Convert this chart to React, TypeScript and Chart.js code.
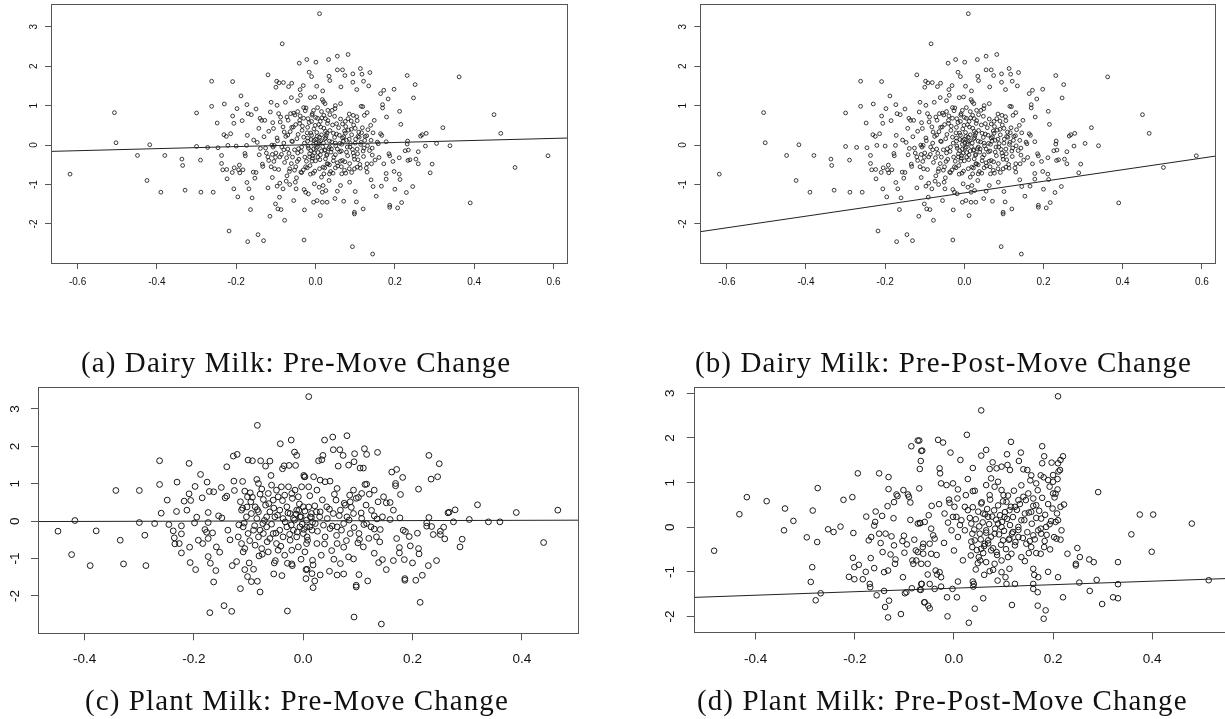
import React, { useEffect, useRef } from "react";
import { Chart, registerables } from "chart.js";

Chart.register(...registerables);

// ---------- data ----------
// Dairy milk: same scatter in (a) and (b)
const dairyPoints: [number, number][] = [
  [-0.619,-0.737],[-0.507,0.822],[-0.503,0.059],[-0.449,-0.263],[-0.418,0.008],[-0.425,-0.898],[-0.390,-1.195],[-0.380,-0.263],
  [-0.337,-0.356],[-0.335,-0.517],[-0.329,-1.144],[-0.300,0.814],[-0.300,-0.034],[-0.290,-0.381],[-0.289,-1.195],[-0.272,-0.059],
  [-0.262,1.619],[-0.262,0.983],[-0.258,-1.195],[-0.248,0.559],[-0.246,-0.068],[-0.237,-0.263],[-0.237,-0.466],[-0.234,-0.627],
  [-0.230,1.042],[-0.231,0.263],[-0.225,0.220],[-0.224,-0.619],[-0.223,-0.856],[-0.221,-0.008],[-0.218,-2.178],[-0.214,0.288],
  [-0.209,1.610],[-0.209,0.737],[-0.206,0.551],[-0.210,-0.695],[-0.206,-1.110],[-0.205,-0.576],[-0.200,-0.025],[-0.198,0.924],
  [-0.196,-1.314],[-0.194,-0.627],[-0.192,-0.508],[-0.191,-0.703],[-0.188,1.246],[-0.185,0.619],[-0.183,-0.627],[-0.178,-0.212],
  [-0.177,-0.271],[-0.174,-0.008],[-0.173,-0.949],[-0.172,0.246],[-0.171,-2.449],[-0.173,1.025],[-0.170,0.797],[-0.168,-1.110],
  [-0.164,-1.636],[-0.162,0.771],[-0.160,-1.339],[-0.157,-0.686],[-0.156,0.127],[-0.153,-0.839],[-0.150,0.915],[-0.150,-0.695],
  [-0.147,0.068],[-0.145,-2.271],[-0.143,0.424],[-0.142,-0.246],[-0.140,0.678],[-0.139,-0.085],[-0.136,0.627],[-0.134,-0.483],
  [-0.133,-0.542],[-0.131,-2.424],[-0.130,0.212],[-0.128,0.627],[-0.126,-0.076],[-0.124,-0.203],[-0.120,1.780],[-0.120,-1.085],
  [-0.118,-0.390],[-0.115,-1.805],[-0.114,0.839],[-0.112,1.085],[-0.109,-0.237],[-0.109,-0.822],[-0.108,0.568],[-0.107,-0.051],
  [-0.105,-0.415],[-0.104,-0.008],[-0.103,-0.602],[-0.101,-1.492],[-0.100,1.466],[-0.098,1.619],[-0.097,1.008],[-0.096,0.110],
  [-0.097,-1.042],[-0.095,-1.619],[-0.093,0.797],[-0.092,1.576],[-0.091,-1.322],[-0.090,-0.966],[-0.089,0.585],[-0.087,-1.636],
  [-0.086,-0.237],[-0.084,2.568],[-0.082,-1.110],[-0.081,1.585],[-0.080,-0.119],[-0.079,0.331],[-0.078,-1.907],[-0.076,1.085],
  [-0.074,-0.915],[-0.073,-0.322],[-0.072,0.712],[-0.070,0.254],[-0.068,1.483],[-0.066,-0.669],[-0.065,-1.000],[-0.063,0.797],
  [-0.061,1.203],[-0.060,1.568],[-0.058,-0.305],[-0.056,0.458],[-0.055,-1.407],[-0.053,-0.636],[-0.052,0.763],[-0.051,-0.941],
  [-0.049,-1.110],[-0.047,0.161],[-0.046,-0.415],[-0.045,1.127],[-0.043,-0.093],[-0.041,2.076],[-0.040,0.627],[-0.039,1.407],
  [-0.038,1.263],[-0.037,-0.686],[-0.035,-0.051],[-0.034,0.373],[-0.031,1.508],[-0.029,-2.407],[-0.029,-1.127],[-0.028,-1.644],
  [-0.027,-0.305],[-0.025,-1.195],[-0.024,0.941],[-0.022,2.169],[-0.021,-0.576],[-0.019,0.669],[-0.019,-0.025],[-0.018,-1.237],
  [-0.016,1.847],[-0.015,-0.220],[-0.013,1.203],[-0.013,-0.737],[-0.012,0.305],[-0.010,1.737],[-0.009,-0.407],[-0.008,0.797],
  [-0.006,-0.712],[-0.005,-1.449],[-0.004,0.119],[-0.003,-0.983],[-0.003,-0.203],[-0.002,1.220],[-0.001,0.500],[0.001,2.102],
  [0.003,1.492],[0.004,-1.407],[0.006,-0.305],[0.008,0.034],[0.009,-1.068],[0.010,3.331],[0.012,-1.788],[0.013,0.458],
  [0.015,-0.814],[0.017,-1.449],[0.018,1.373],[0.019,-0.559],[0.021,0.754],[0.023,-0.136],[0.024,1.051],[0.026,-1.153],
  [0.027,0.246],[0.029,-1.449],[0.029,-0.475],[0.031,0.881],[0.033,2.169],[0.034,1.746],[0.035,-0.729],[0.035,-0.051],
  [0.055,2.254],[0.082,2.297],[0.055,1.907],[0.068,1.907],[0.074,1.763],[0.036,1.636],[0.094,1.805],[0.113,1.941],
  [0.117,1.797],[0.137,1.839],[0.094,1.593],[0.121,1.619],[0.064,1.475],[0.134,1.500],[0.104,1.407],[0.164,1.305],
  [0.172,1.390],[0.198,1.415],[0.231,1.763],[0.251,1.534],[0.247,1.195],[0.183,1.169],[0.169,1.025],[0.169,0.941],
  [0.212,0.856],[0.179,0.712],[0.215,0.525],[0.362,1.729],[0.450,0.771],[0.467,0.297],[0.321,0.441],[0.279,0.297],
  [0.269,0.263],[0.265,0.229],[0.232,0.102],[0.231,0.025],[0.277,-0.025],[0.305,0.042],[0.339,-0.017],[0.259,-0.169],
  [0.226,-0.144],[0.234,-0.127],[0.211,-0.322],[0.233,-0.390],[0.238,-0.373],[0.253,-0.356],[0.259,-0.475],[0.294,-0.483],
  [0.289,-0.703],[0.195,-0.415],[0.172,-0.475],[0.185,-0.220],[0.187,-0.271],[0.160,-0.314],[0.178,0.085],[0.164,0.288],
  [0.167,0.246],[0.156,0.076],[0.158,0.034],[0.143,-0.076],[0.143,-0.254],[0.178,-0.720],[0.178,-0.864],[0.211,-0.737],
  [0.213,-0.873],[0.198,-0.669],[0.200,-1.119],[0.166,-1.042],[0.245,-1.051],[0.229,-1.203],[0.217,-1.458],[0.207,-1.593],
  [0.187,-1.525],[0.187,-1.576],[0.120,-1.619],[0.098,-1.703],[0.098,-1.746],[0.103,-1.441],[0.153,-1.297],[0.145,-1.051],
  [0.140,-0.881],[0.130,-0.686],[0.141,-0.475],[0.130,-0.475],[0.113,-0.585],[0.100,-1.178],[0.071,-1.424],[0.049,-1.356],
  [0.390,-1.466],[0.503,-0.568],[0.586,-0.271],[0.093,-2.576],[0.144,-2.763],[0.086,-0.941],[0.076,-0.712],[0.074,-0.424],
  [0.078,-0.178],[0.097,-0.280],[0.087,-0.051],[0.063,-1.025],[0.055,-1.169],[0.066,-0.729],[0.044,-0.712],[0.034,-0.898],
  [0.019,-1.025],[0.017,-1.195],[0.091,-0.695],[0.098,-0.602],[0.105,-0.559],[0.107,-0.373],[0.122,-0.076],[0.131,-0.017],
  [0.114,0.017],[0.124,0.119],[0.116,0.314],[0.129,0.237],[0.107,0.220],[0.100,0.424],[0.090,0.610],[0.095,0.754],
  [0.085,0.788],[0.082,0.669],[0.115,0.983],[0.119,0.975],[0.130,0.822],[0.123,0.754],[0.139,0.500],[0.148,0.627],
  [0.105,0.619],[0.068,0.534],[0.073,0.356],[0.053,0.542],[0.063,1.051],[0.042,0.881],[0.049,0.924],[0.036,0.771],
  [0.025,0.669],[0.017,1.153],[0.048,0.195],[0.061,0.042],[0.068,0.178],[0.029,0.305],[0.024,0.161],[0.029,-0.237],
  [0.039,-0.178],[0.050,-0.246],[0.063,-0.407],[0.050,-0.576],[0.031,-0.475],[0.021,-0.729],
  [-0.040,0.550],[-0.030,0.680],[-0.020,0.450],[-0.010,0.600],[0.000,0.700],[0.005,0.680],[0.012,0.600],[-0.030,0.200],
  [-0.020,0.100],[-0.010,0.250],[0.000,0.150],[0.010,0.200],[0.020,0.050],[-0.005,-0.100],[0.005,-0.050],[0.015,-0.150],
  [-0.015,-0.300],[0.000,-0.400],[0.010,-0.600],[-0.025,-0.550],[-0.035,-0.700],[-0.045,-0.200],[-0.060,0.100],[-0.070,-0.100],
  [-0.080,0.050],[-0.090,-0.300],[-0.100,-0.200],[-0.110,0.000],[-0.120,-0.300],[-0.060,0.450],[-0.050,-0.550],[-0.065,-0.600],
  [0.025,0.350],[0.030,0.550],[0.035,0.100],[0.040,-0.100],[0.045,0.300],[0.050,0.050],[0.055,-0.100],[0.060,0.250],
  [0.065,-0.150],[0.070,0.100],[0.075,0.300],[0.080,-0.050],[0.085,0.150],[0.090,0.400],[0.095,-0.200],[0.100,0.050],
  [0.105,-0.100],[0.110,0.200],[0.120,-0.150],[0.025,-0.350],[0.035,-0.500],[0.045,-0.400],[0.055,-0.450],[0.065,-0.550],
  [0.075,0.600],[0.085,-0.600],[0.015,0.850],[0.005,0.950],[-0.005,0.880],[0.020,1.100],[0.050,1.000],[-0.030,0.950],
  [-0.045,0.850],
  [-0.118,0.35],[-0.112,-0.55],[-0.106,0.42],[-0.101,-0.31],[-0.097,0.18],[-0.093,-0.62],[-0.088,0.71],[-0.085,-0.05],
  [-0.082,0.46],[-0.078,-0.44],[-0.075,0.22],[-0.072,-0.78],[-0.069,0.63],[-0.067,-0.21],[-0.064,0.34],[-0.061,-0.47],
  [-0.058,0.09],[-0.055,0.81],[-0.053,-0.12],[-0.050,0.52],[-0.048,-0.83],[-0.044,0.27],[-0.042,-0.36],[-0.039,0.74],
  [-0.036,-0.16],[-0.033,0.48],[-0.031,-0.63],[-0.028,0.05],[-0.026,0.87],[-0.023,-0.41],[-0.021,0.31],[-0.018,-0.08],
  [-0.016,0.57],[-0.014,-0.52],[-0.011,0.14],[-0.009,0.76],[-0.007,-0.27],[-0.004,0.41],[-0.002,-0.66],[0.001,0.05],
  [0.003,0.32],[0.006,-0.19],[0.008,0.52],[0.011,-0.37],[0.013,0.11],[0.016,0.69],[0.018,-0.04],[0.021,0.43],
  [0.023,-0.58],[0.026,0.19],[0.028,-0.26],[0.031,0.62],[0.033,-0.09],[0.036,0.37],[0.038,-0.67],[0.041,0.08],
  [0.043,0.51],[0.046,-0.31],[0.048,0.73],[0.051,-0.02],[0.053,0.28],[0.056,-0.53],[0.058,0.44],[0.061,-0.17],
  [0.063,0.66],[0.066,0.02],[0.068,-0.39],[0.071,0.21],[0.073,-0.64],[0.076,0.47],[0.078,0.12],[0.081,-0.27],
  [0.083,0.38],[0.086,-0.47],[0.088,0.04],[0.091,0.26],[0.093,-0.11],[0.096,0.51],[0.098,-0.36],[0.101,0.15],
  [0.104,0.72],[0.106,-0.22],[0.109,0.33],[0.112,-0.49],[0.115,0.07],[0.118,0.44],[0.121,-0.29],[0.125,0.22],
  [0.128,-0.58],[0.132,0.39],[0.136,-0.14],[0.140,0.12],[0.145,0.31],[0.150,-0.38],
  [-0.005,0.02],[0.002,-0.08],[0.009,0.09],[-0.012,-0.14],[0.015,0.26],[-0.020,0.18],[0.024,-0.12],[0.004,0.22],
  [-0.008,-0.33],[0.012,-0.25]
];

const plantPrePoints: [number, number][] = [
  [-0.449,-0.268],[-0.418,0.018],[-0.424,-0.893],[-0.390,-1.188],[-0.379,-0.259],[-0.343,0.821],[-0.335,-0.509],[-0.329,-1.143],
  [-0.300,0.821],[-0.300,-0.036],[-0.290,-0.375],[-0.288,-1.188],[-0.272,-0.063],[-0.263,1.616],[-0.263,0.982],[-0.260,0.214],
  [-0.249,0.563],[-0.246,-0.089],[-0.238,-0.259],[-0.236,-0.446],[-0.232,0.259],[-0.231,1.045],[-0.235,-0.607],[-0.227,-0.598],
  [-0.223,-0.848],[-0.223,-0.339],[-0.223,-0.125],[-0.218,0.536],[-0.213,0.295],[-0.209,1.545],[-0.209,0.732],[-0.207,-1.107],
  [-0.208,-0.696],[-0.206,0.554],[-0.199,-0.045],[-0.198,0.929],[-0.197,-1.295],[-0.195,0.107],[-0.192,-0.509],[-0.188,1.250],
  [-0.185,0.625],[-0.184,-0.598],[-0.180,-0.223],[-0.177,-0.295],[-0.176,1.045],[-0.174,0.232],[-0.174,-0.036],[-0.174,-0.464],
  [-0.174,-0.946],[-0.172,0.795],[-0.170,-1.125],[-0.171,-2.446],[-0.164,-1.625],[-0.166,-0.313],[-0.164,0.786],[-0.160,-1.321],
  [-0.159,-0.688],[-0.155,0.143],[-0.153,-0.830],[-0.150,0.902],[-0.149,0.089],[-0.145,-2.259],[-0.143,0.625],[-0.140,1.455],
  [-0.140,0.670],[-0.138,-0.241],[-0.134,-0.500],[-0.131,-2.411],[-0.130,-1.188],[-0.127,1.071],[-0.128,1.741],[-0.126,0.821],
  [-0.122,-1.080],[-0.121,1.786],[-0.118,-0.098],[-0.115,-1.804],[-0.111,1.063],[-0.111,0.348],[-0.110,-0.821],[-0.107,-1.295],
  [-0.102,-1.482],[-0.101,1.634],[-0.099,-1.116],[-0.097,0.759],[-0.095,-1.616],[-0.093,1.616],[-0.091,-1.286],[-0.088,0.384],
  [-0.085,1.116],[-0.084,-1.607],[-0.084,2.563],[-0.081,-0.929],[-0.079,-1.893],[-0.078,1.616],[-0.075,-0.884],[-0.074,-0.063],
  [-0.069,1.473],[-0.061,1.607],[-0.059,1.223],[-0.054,-1.411],[-0.053,-1.116],[-0.051,-1.054],[-0.042,2.071],[-0.039,-1.455],
  [-0.038,1.402],[-0.035,1.482],[-0.029,-2.402],[-0.029,-1.125],[-0.026,1.491],[-0.022,2.170],[-0.021,-1.143],[-0.020,-1.188],
  [-0.016,1.848],[-0.014,1.491],[-0.012,1.759],[-0.004,-1.018],[0.001,1.223],[0.005,-1.295],[0.010,3.330],[0.016,-1.402],
  [0.018,-1.777],
  [-0.107,0.804],[-0.102,0.652],[-0.096,0.518],[-0.082,1.009],[-0.079,0.723],[-0.073,0.580],[-0.069,0.429],[-0.064,0.741],
  [-0.058,0.964],[-0.055,0.563],[-0.049,0.830],[-0.046,0.652],[-0.040,0.920],[-0.034,0.696],[-0.027,0.920],[-0.021,0.741],
  [-0.015,0.830],[-0.009,0.652],[-0.003,0.920],[0.003,1.188],[-0.113,0.295],[-0.104,0.116],[-0.095,0.205],[-0.085,0.071],
  [-0.082,0.250],[-0.067,0.116],[-0.061,0.250],[-0.052,0.116],[-0.043,0.295],[-0.037,0.071],[-0.030,0.384],[-0.024,0.205],
  [-0.018,0.071],[-0.012,0.295],[-0.006,0.116],[0.000,0.384],[0.006,0.027],[0.015,0.205],[-0.110,-0.152],[-0.101,-0.330],
  [-0.091,-0.241],[-0.082,-0.420],[-0.073,-0.330],[-0.067,-0.152],[-0.061,-0.464],[-0.055,-0.330],[-0.049,-0.598],[-0.043,-0.241],
  [-0.037,-0.420],[-0.030,-0.152],[-0.024,-0.509],[-0.018,-0.241],[-0.012,-0.420],[-0.006,-0.152],[0.000,-0.330],[0.006,-0.598],
  [0.012,-0.152],[-0.119,-0.420],[-0.113,-0.598],[-0.107,-0.732],[-0.088,-0.643],[-0.076,-0.732],[-0.064,-0.821],[-0.046,-0.777],
  [-0.034,-0.911],[-0.021,-0.777],[-0.009,-0.688],[0.003,-0.821],
  [0.039,2.170],[0.054,2.250],[0.080,2.286],[0.055,1.911],[0.067,1.911],[0.073,1.759],[0.036,1.759],[0.034,1.643],
  [0.094,1.804],[0.112,1.938],[0.116,1.786],[0.136,1.839],[0.093,1.589],[0.083,1.500],[0.104,1.420],[0.110,1.420],
  [0.064,1.473],[0.028,1.616],[0.230,1.759],[0.249,1.536],[0.246,1.188],[0.234,1.125],[0.162,1.313],[0.171,1.384],
  [0.182,1.170],[0.169,1.009],[0.169,0.946],[0.211,0.857],[0.178,0.714],[0.319,0.438],[0.390,0.232],[0.466,0.295],
  [0.278,0.304],[0.267,0.241],[0.265,0.223],[0.304,0.045],[0.339,-0.018],[0.360,-0.018],[0.275,-0.018],[0.230,0.098],
  [0.226,-0.045],[0.226,-0.134],[0.235,-0.143],[0.257,-0.161],[0.251,-0.268],[0.238,-0.357],[0.251,-0.357],[0.259,-0.473],
  [0.291,-0.482],[0.287,-0.688],[0.440,-0.571],[0.209,-0.321],[0.183,-0.241],[0.187,-0.277],[0.194,-0.411],[0.171,-0.464],
  [0.176,-0.705],[0.176,-0.848],[0.196,-0.661],[0.211,-0.732],[0.212,-0.875],[0.229,-1.188],[0.244,-1.054],[0.200,-1.116],
  [0.185,-1.027],[0.165,-1.054],[0.152,-1.295],[0.218,-1.446],[0.206,-1.580],[0.186,-1.536],[0.186,-1.580],[0.214,-2.170],
  [0.118,-1.598],[0.097,-1.714],[0.097,-1.759],[0.102,-1.429],[0.093,-2.563],[0.143,-2.750],[0.138,-1.107],[0.145,-1.027],
  [0.130,-0.857],[0.092,-1.009],[0.074,-1.411],[0.062,-1.438],[0.048,-1.339],[0.031,-1.438],[0.021,-1.598],[0.018,-1.170],
  [0.007,-1.286],[0.017,-1.045],[0.005,-1.536],[0.056,-1.018],[0.068,-1.134],[0.083,-0.955],[0.074,-0.696],[0.062,-0.598],
  [0.052,-0.786],[0.033,-0.911],[0.025,-0.598],[0.100,-0.580],[0.103,-0.491],[0.110,-0.688],[0.140,-0.554],[0.134,-0.420],
  [0.141,-0.223],[0.124,-0.152],[0.116,-0.063],[0.107,0.071],[0.130,0.143],[0.145,0.116],[0.159,0.045],[0.165,0.295],
  [0.177,0.089],[0.152,0.491],[0.147,0.652],[0.137,0.518],[0.159,0.500],[0.130,0.830],[0.116,0.991],[0.113,0.982],
  [0.121,0.723],[0.107,0.741],[0.101,0.634],[0.092,0.830],[0.085,0.696],[0.086,0.518],[0.077,0.429],[0.060,0.563],
  [0.049,1.071],[0.040,1.054],[0.031,1.098],[0.019,1.188],[0.002,1.188],[0.010,0.920],[0.025,0.830],[0.062,0.875],
  [0.043,0.384],[0.031,0.250],[0.055,0.205],[0.068,0.295],[0.080,0.116],[0.092,0.205],[0.013,0.116],[0.022,-0.063],
  [0.037,-0.107],[0.049,-0.196],[0.062,-0.152],[0.074,-0.063],[0.086,-0.330],[0.040,-0.420],[0.007,-0.420],[0.016,-0.241],
  [-0.115,0.52],[-0.108,-0.05],[-0.103,0.38],[-0.098,-0.52],[-0.093,0.64],[-0.089,-0.12],[-0.084,0.31],[-0.079,-0.24],
  [-0.076,0.86],[-0.071,0.02],[-0.066,-0.55],[-0.063,0.47],[-0.058,-0.08],[-0.054,0.35],[-0.050,-0.32],[-0.047,0.16],
  [-0.041,-0.67],[-0.038,0.55],[-0.033,-0.02],[-0.028,0.22],[-0.025,-0.35],[-0.020,0.61],[-0.016,0.03],[-0.011,-0.29],
  [-0.007,0.46],[-0.002,-0.08],[0.003,0.27],[0.008,-0.51],[0.012,0.68],[0.017,-0.03],[0.021,0.41],[0.026,-0.27],
  [0.030,0.12],[0.035,0.57],[0.039,-0.61],[0.044,0.07],[0.048,0.32],[0.053,-0.13],[0.057,0.72],[0.061,-0.38],
  [0.066,0.15],[0.070,-0.24],[0.075,0.48],[0.079,-0.52],[0.084,0.03],[0.088,0.37],[0.093,-0.17],[0.097,0.61],
  [0.102,-0.33],[0.106,0.22],[0.111,-0.09],[0.115,0.43],[0.120,-0.46],[0.125,0.29],[0.130,-0.21],[0.135,0.06],
  [-0.004,0.12],[0.006,-0.16],[-0.013,0.19],[0.015,0.10],[0.001,-0.22],[-0.022,-0.10],[0.024,0.25],[0.010,0.38],
  [-0.008,0.29]
];

const plantPostPoints: [number, number][] = [
  [-0.484,-0.525],[-0.433,0.293],[-0.418,0.675],[-0.378,0.585],[-0.341,0.420],[-0.343,-0.068],[-0.324,0.143],[-0.297,-0.225],
  [-0.285,0.375],[-0.286,-0.893],[-0.289,-1.223],[-0.276,-0.330],[-0.275,0.878],[-0.279,-1.635],[-0.269,-1.478],[-0.254,-0.045],
  [-0.243,-0.105],[-0.229,0.015],[-0.223,0.615],[-0.205,0.675],[-0.203,-0.128],[-0.204,-0.683],[-0.201,-0.893],[-0.194,1.208],
  [-0.192,-0.840],[-0.212,-1.110],[-0.201,-1.163],[-0.184,-1.163],[-0.178,-0.998],[-0.177,0.240],[-0.172,-0.293],[-0.168,-0.690],
  [-0.170,-1.268],[-0.169,-1.343],[-0.159,0.120],[-0.158,0.353],[-0.161,0.038],[-0.161,-0.915],[-0.156,-1.523],[-0.167,-0.218],
  [-0.151,1.208],[-0.151,-0.143],[-0.148,-0.353],[-0.145,0.255],[-0.144,-0.555],[-0.141,-1.425],[-0.141,-1.005],[-0.138,-0.143],
  [-0.139,-1.785],[-0.134,0.473],[-0.133,-0.968],[-0.132,1.125],[-0.132,0.855],[-0.133,-2.018],[-0.131,-1.643],[-0.128,-0.608],
  [-0.126,-0.203],[-0.122,0.203],[-0.121,0.563],[-0.121,-0.405],[-0.119,-0.818],[-0.118,-0.720],[-0.116,0.735],[-0.114,0.698],
  [-0.107,-1.943],[-0.104,-0.308],[-0.103,-1.118],[-0.102,0.833],[-0.101,-0.188],[-0.100,-0.570],[-0.099,-1.478],[-0.096,-1.455],
  [-0.095,-0.383],[-0.093,0.735],[-0.091,0.683],[-0.088,0.555],[-0.088,0.165],[-0.086,1.815],[-0.085,-1.365],[-0.084,-0.743],
  [-0.082,-0.818],[-0.080,-0.278],[-0.077,-0.518],[-0.070,1.943],[-0.068,0.090],[-0.070,0.870],[-0.069,1.305],[-0.067,1.485],
  [-0.064,1.718],[-0.067,-1.403],[-0.065,-1.268],[-0.062,-0.593],[-0.060,-1.680],[-0.062,-0.368],
  [0.210,2.933],[0.055,2.618],[0.026,2.071],[-0.073,1.943],[-0.032,1.958],[-0.022,1.898],[-0.066,1.710],[-0.007,1.673],
  [0.013,1.508],[0.065,1.733],[0.055,1.605],[0.038,1.328],[0.078,1.455],[0.072,1.305],[0.086,1.320],[0.096,1.358],
  [0.107,1.635],[0.115,1.913],[0.135,1.673],[0.131,1.485],[0.108,1.395],[0.113,1.283],[0.140,1.298],[0.148,1.283],
  [0.156,1.163],[0.178,1.815],[0.182,1.590],[0.178,1.433],[0.197,1.448],[0.215,1.508],[0.220,1.590],[0.210,1.433],
  [0.214,1.283],[0.200,1.170],[0.209,1.080],[0.200,1.020],[0.190,1.058],[0.175,1.163],[0.166,0.983],[0.209,0.848],
  [0.200,0.758],[0.203,0.668],[0.215,0.458],[0.222,0.510],[0.291,0.788],[0.375,0.285],[0.402,0.285],[0.480,0.083],
  [0.358,-0.158],[0.399,-0.548],[0.331,-0.780],[0.514,-1.185],[0.249,-0.465],[0.254,-0.668],[0.246,-0.818],[0.246,-0.855],
  [0.273,-0.720],[0.282,-0.780],[0.229,-0.593],[0.288,-1.178],[0.253,-1.238],[0.331,-1.275],[0.274,-1.425],[0.299,-1.718],
  [0.321,-1.568],[0.331,-1.590],[0.220,-1.568],[0.210,-1.118],[0.190,-0.998],[0.194,-0.495],[0.183,-0.308],[0.175,-0.593],
  [0.182,-0.443],[0.215,-0.278],[0.217,-0.068],[0.207,-0.255],[0.205,0.120],[0.210,0.158],[0.193,0.068],[0.176,0.195],
  [0.186,0.008],[0.170,-0.068],[0.176,-0.143],[0.160,-0.180],[0.153,-0.308],[0.146,-0.368],[0.156,-0.443],[0.166,-0.578],
  [0.151,-0.578],[0.143,-0.758],[0.160,-0.930],[0.162,-1.065],[0.160,-1.268],[0.160,-1.380],[0.170,-1.118],[0.169,-1.455],
  [0.169,-1.755],[0.185,-1.860],[0.181,-2.048],[0.117,-1.740],[0.123,-1.268],[0.112,-0.930],[0.104,-1.118],[0.106,-1.268],
  [0.096,-1.005],[0.088,-1.193],[0.079,-0.953],[0.072,-0.983],[0.061,-1.065],[0.059,-1.590],[0.042,-1.823],[0.030,-2.138],
  [0.040,-1.268],[0.039,-1.328],[0.038,-1.215],[0.044,-0.945],[0.048,-0.803],[0.053,-0.743],[0.065,-0.780],[0.059,-0.578],
  [0.050,-0.668],[0.034,-0.630],[0.037,-0.443],[0.008,-1.215],[-0.003,-1.380],[0.006,-1.568],[-0.014,-1.568],[-0.013,-1.995],
  [-0.026,-1.328],[-0.039,-1.380],[-0.049,-1.268],[-0.069,-1.395],[-0.066,-1.268],[-0.059,-1.680],[-0.052,-1.755],[-0.049,-1.815],
  [-0.037,-0.968],[-0.029,-1.005],[-0.034,-1.058],[-0.026,-1.118],[-0.053,-1.058],[-0.053,-0.818],[-0.046,-0.593],[-0.066,-0.818],
  [-0.076,-0.743],[-0.073,-0.555],[-0.063,-0.443],[-0.049,-0.368],[-0.042,-0.180],[-0.046,-0.030],[-0.059,0.120],[-0.069,0.098],
  [-0.051,0.270],[-0.030,0.518],[-0.029,1.320],[-0.028,1.208],[-0.026,0.983],[-0.015,0.945],[-0.002,0.983],[-0.009,0.548],
  [-0.012,0.105],[-0.002,0.233],[-0.005,-0.068],[0.005,0.233],[0.008,0.848],[0.007,0.645],[0.028,1.080],[0.038,0.810],
  [0.042,0.818],[0.022,0.458],[0.028,0.383],[0.035,0.083],[0.037,-0.143],[0.042,-0.293],[0.055,-0.480],[0.062,-0.368],
  [0.069,-0.293],[0.075,-0.518],[0.086,-0.555],[0.052,-0.143],[0.065,-0.068],[0.069,0.233],[0.059,0.308],[0.055,0.533],
  [0.072,0.720],[0.082,0.908],[0.065,0.945],[0.075,1.095],[0.089,1.020],[0.096,0.833],[0.100,0.720],[0.106,0.570],
  [0.112,0.383],[0.102,0.233],[0.096,0.008],[0.089,0.083],[0.082,-0.143],[0.099,-0.293],[0.112,-0.255],[0.123,-0.405],
  [0.130,-0.218],[0.119,-0.105],[0.130,0.008],[0.136,0.158],[0.143,0.308],[0.123,0.458],[0.130,0.608],[0.140,0.683],
  [0.150,0.758],[0.160,0.645],[0.166,0.495],[0.156,0.345],[0.116,-0.593],[0.109,-0.668],[0.136,-0.668],[0.096,-0.743],
  [0.082,-0.818],[-0.073,0.083],[-0.039,-0.255],[-0.019,0.308],[0.001,0.458],[0.015,0.158],[0.022,-0.068],[0.008,-0.218],
  [0.032,0.21],[0.035,-0.32],[0.038,0.45],[0.041,-0.05],[0.044,0.18],[0.046,-0.51],[0.049,0.35],[0.051,0.02],
  [0.054,-0.27],[0.056,0.56],[0.058,0.11],[0.061,-0.42],[0.063,0.29],[0.065,-0.12],[0.067,0.41],[0.069,-0.36],
  [0.071,0.07],[0.073,0.62],[0.075,-0.21],[0.077,0.24],[0.079,-0.47],[0.081,0.38],[0.083,-0.03],[0.085,0.17],
  [0.087,-0.62],[0.089,0.49],[0.091,-0.16],[0.093,0.27],[0.095,-0.39],[0.097,0.12],[0.099,0.58],[0.101,-0.08],
  [0.103,0.34],[0.105,-0.49],[0.107,0.19],[0.109,0.71],[0.111,-0.28],[0.113,0.05],[0.115,0.46],[0.117,-0.14],
  [0.119,0.23],[0.121,0.82],[0.124,-0.33],[0.127,0.39],[0.130,-0.06],[0.133,0.52],[0.136,0.94],[0.139,-0.24],
  [0.142,0.16],[0.145,0.61],[0.148,-0.11],[0.151,0.33],[0.154,1.05],[0.157,0.08],[0.160,0.48],[0.163,-0.27],
  [0.166,0.21],[0.169,0.83],[0.172,0.37],[0.175,-0.03],[0.178,0.66],[0.181,1.12],[0.184,0.28],[0.187,-0.17],
  [0.190,0.52],[0.193,0.91],[0.196,0.14],[0.199,0.42],[0.202,-0.22],[0.205,0.75],[0.208,0.31],[0.211,1.25],
  [-0.020,-0.35],[-0.010,0.62],[0.000,-0.52],[0.012,0.05],[0.018,-0.74],[0.024,0.72],[-0.035,-0.62],[-0.045,0.48]
];

// regression lines (end points at the axis limits)
const dairyPreLine: [number, number][] = [[-0.667, -0.16], [0.634, 0.178]];
const dairyPostLine: [number, number][] = [[-0.667, -2.196], [0.634, -0.28]];
const plantPreLine: [number, number][] = [[-0.485, -0.01], [0.5035, 0.027]];
const plantPostLine: [number, number][] = [[-0.524, -1.57], [0.555, -1.146]];

// axis ranges and ticks
const dairyXRange: [number, number] = [-0.667, 0.634];
const dairyYRange: [number, number] = [-2.99, 3.577];
const plantPreXRange: [number, number] = [-0.485, 0.5035];
const plantPreYRange: [number, number] = [-2.99, 3.58];
const plantPostXRange: [number, number] = [-0.524, 0.555];
const plantPostYRange: [number, number] = [-2.345, 3.135];

const dairyXTicks = [-0.6, -0.4, -0.2, 0, 0.2, 0.4, 0.6];
const plantXTicks = [-0.4, -0.2, 0, 0.2, 0.4];
const yTicks = [-2, -1, 0, 1, 2, 3];

const captionTexts = [
  "(a) Dairy Milk: Pre-Move Change",
  "(b) Dairy Milk: Pre-Post-Move Change",
  "(c) Plant Milk: Pre-Move Change",
  "(d) Plant Milk: Pre-Post-Move Change",
];

// ---------- layout / style ----------
type PanelCfg = {
  points: [number, number][];
  line: [number, number][];
  xRange: [number, number];
  yRange: [number, number];
  xTicks: number[];
  left: number; top: number; width: number; height: number;
  padTop: number; padRight: number; yWidth: number; xHeight: number;
  tickLen: number; fontSize: number; xLabelPad: number; yLabelPad: number;
  radius: number; ptWidth: number;
};

const panels: PanelCfg[] = [
  { points: dairyPoints, line: dairyPreLine, xRange: dairyXRange, yRange: dairyYRange, xTicks: dairyXTicks,
    left: 0, top: 0, width: 612, height: 330, padTop: 4, padRight: 45, yWidth: 51, xHeight: 67,
    tickLen: 6, fontSize: 10, xLabelPad: 7.5, yLabelPad: 6.5, radius: 1.9, ptWidth: 0.85 },
  { points: dairyPoints, line: dairyPostLine, xRange: dairyXRange, yRange: dairyYRange, xTicks: dairyXTicks,
    left: 640, top: 0, width: 590, height: 330, padTop: 4, padRight: 14.7, yWidth: 60.3, xHeight: 67,
    tickLen: 6, fontSize: 10, xLabelPad: 7.5, yLabelPad: 6.5, radius: 1.9, ptWidth: 0.85 },
  { points: plantPrePoints, line: plantPreLine, xRange: plantPreXRange, yRange: plantPreYRange, xTicks: plantXTicks,
    left: 0, top: 360, width: 612, height: 330, padTop: 27.3, padRight: 33.7, yWidth: 38.3, xHeight: 57,
    tickLen: 7.3, fontSize: 13.5, xLabelPad: 11, yLabelPad: 10, radius: 2.9, ptWidth: 1 },
  { points: plantPostPoints, line: plantPostLine, xRange: plantPostXRange, yRange: plantPostYRange, xTicks: plantXTicks,
    left: 640, top: 360, width: 600, height: 330, padTop: 27.3, padRight: 11, yWidth: 54.3, xHeight: 58,
    tickLen: 7.5, fontSize: 13.5, xLabelPad: 11.4, yLabelPad: 10.7, radius: 2.8, ptWidth: 1 },
];

const captionPos = [
  { left: 81, top: 348 },
  { left: 695, top: 348 },
  { left: 85, top: 686 },
  { left: 697, top: 686 },
];

const boxPlugin = {
  id: "rbox",
  afterDatasetsDraw(chart: any) {
    const { ctx, chartArea: a } = chart;
    ctx.save();
    ctx.strokeStyle = "#555";
    ctx.lineWidth = 1;
    ctx.strokeRect(Math.round(a.left) + 0.5, Math.round(a.top) + 0.5,
      Math.round(a.right) - Math.round(a.left), Math.round(a.bottom) - Math.round(a.top));
    ctx.restore();
  },
};

function Panel({ cfg }: { cfg: PanelCfg }) {
  const ref = useRef<HTMLCanvasElement>(null);
  useEffect(() => {
    if (!ref.current) return;
    const font = { family: '"Liberation Sans", Arial, Helvetica, sans-serif', size: cfg.fontSize };
    const chart = new Chart(ref.current, {
      type: "scatter",
      data: {
        datasets: [
          {
            data: cfg.points.map(([x, y]) => ({ x, y })),
            pointRadius: cfg.radius,
            pointHoverRadius: cfg.radius,
            pointBackgroundColor: "rgba(0,0,0,0)",
            pointBorderColor: "#1a1a1a",
            pointBorderWidth: cfg.ptWidth,
            showLine: false,
          } as any,
          {
            data: cfg.line.map(([x, y]) => ({ x, y })),
            showLine: true,
            pointRadius: 0,
            borderColor: "#222",
            borderWidth: 1,
            fill: false,
          } as any,
        ],
      },
      options: {
        animation: false,
        responsive: false,
        events: [],
        plugins: { legend: { display: false }, tooltip: { enabled: false } },
        layout: { padding: { top: cfg.padTop, right: cfg.padRight, bottom: 0, left: 0 } },
        scales: {
          x: {
            type: "linear",
            min: cfg.xRange[0],
            max: cfg.xRange[1],
            afterBuildTicks: (s: any) => { s.ticks = cfg.xTicks.map((v) => ({ value: v })); },
            afterFit: (s: any) => { s.height = cfg.xHeight; s.paddingLeft = 0; s.paddingRight = 0; },
            grid: { display: true, drawOnChartArea: false, drawTicks: true, tickLength: cfg.tickLen, color: "#555", lineWidth: 1 },
            border: { display: false },
            ticks: {
              autoSkip: false, maxRotation: 0, minRotation: 0, padding: cfg.xLabelPad, color: "#111", font,
              callback: (v: any) => Number(v).toFixed(1),
            },
          },
          y: {
            type: "linear",
            min: cfg.yRange[0],
            max: cfg.yRange[1],
            afterBuildTicks: (s: any) => { s.ticks = yTicks.map((v) => ({ value: v })); },
            afterFit: (s: any) => { s.width = cfg.yWidth; s.paddingTop = 0; s.paddingBottom = 0; },
            grid: { display: true, drawOnChartArea: false, drawTicks: true, tickLength: cfg.tickLen, color: "#555", lineWidth: 1 },
            border: { display: false },
            ticks: {
              autoSkip: false, minRotation: 90, maxRotation: 90, crossAlign: "center", padding: cfg.yLabelPad, color: "#111", font,
              callback: (v: any) => String(v),
            },
          },
        },
      } as any,
      plugins: [boxPlugin],
    });
    return () => chart.destroy();
  }, [cfg]);
  return (
    <canvas
      ref={ref}
      width={cfg.width}
      height={cfg.height}
      style={{ position: "absolute", left: cfg.left, top: cfg.top, width: cfg.width, height: cfg.height }}
    />
  );
}

export default function App() {
  return (
    <div style={{ position: "absolute", left: 0, top: 0, width: 1225, height: 719, overflow: "hidden", background: "#fff" }}>
      {panels.map((p, i) => <Panel key={i} cfg={p} />)}
      {captionTexts.map((t, i) => (
        <div
          key={"c" + i}
          style={{
            position: "absolute",
            left: captionPos[i].left,
            top: captionPos[i].top,
            whiteSpace: "nowrap",
            fontFamily: '"Liberation Serif", "Times New Roman", serif',
            fontSize: 29,
            lineHeight: "29px",
            letterSpacing: "1.1px",
            color: "#111",
          }}
        >
          {t}
        </div>
      ))}
    </div>
  );
}
